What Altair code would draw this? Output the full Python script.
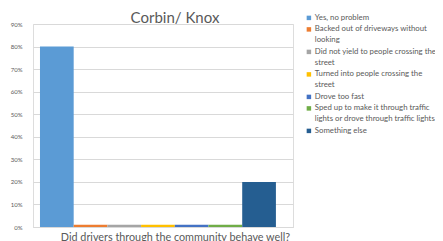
import altair as alt
import pandas as pd

# data
answers = [
    ["Yes, no problem"],
    ["Backed out of driveways without", "looking"],
    ["Did not yield to people crossing the", "street"],
    ["Turned into people crossing the", "street"],
    ["Drove too fast"],
    ["Sped up to make it through traffic", "lights or drove through traffic lights"],
    ["Something else"],
]
shares = [0.80, 0.01, 0.01, 0.01, 0.01, 0.01, 0.20]
colors = ["#5B9BD5", "#ED7D31", "#A5A5A5", "#FFC000", "#4472C4", "#70AD47", "#255E91"]
y_ticks = [0, 0.1, 0.2, 0.3, 0.4, 0.5, 0.6, 0.7, 0.8, 0.9]

names = ["\n".join(a) for a in answers]
df = pd.DataFrame({"answer": names, "share": shares})

FONT = "Lato"
GREY = "#595959"

chart = alt.Chart(df).mark_bar().encode(
    x=alt.X("answer:N", sort=names,
            scale=alt.Scale(paddingInner=0, paddingOuter=0.357, align=0.29),
            axis=alt.Axis(title="Did drivers through the community behave well?",
                          labels=False, ticks=False, domain=True, domainColor="#D9D9D9",
                          titleFont=FONT, titleFontSize=10.8, titleColor=GREY,
                          titleFontWeight="normal", titlePadding=4, titleX=142)),
    y=alt.Y("share:Q", scale=alt.Scale(domain=[0, 0.9], nice=False),
            axis=alt.Axis(title=None, values=y_ticks, format=".0%", labelFontSize=6,
                          labelColor=GREY, labelFont=FONT, domain=False, ticks=False,
                          gridColor="#D9D9D9", labelPadding=11)),
    color=alt.Color("answer:N", sort=names,
                    scale=alt.Scale(domain=names, range=colors),
                    legend=alt.Legend(title=None, orient="none", legendX=272, legendY=-10,
                                      padding=0,
                                      symbolType="square", symbolSize=20, symbolStrokeWidth=0,
                                      labelFont=FONT, labelFontSize=7.8, labelColor=GREY,
                                      labelLimit=200, rowPadding=2.5, labelOffset=2,
                                      labelExpr="split(datum.label, '\\n')")),
).properties(
    width=260, height=203,
    title=alt.TitleParams("Corbin/ Knox", font=FONT, fontSize=15, color=GREY,
                          fontWeight="normal", anchor="middle", frame="group",
                          offset=4, dy=16, dx=12),
    padding={"left": 25, "top": 16, "right": 142, "bottom": 14},
    autosize=alt.AutoSizeParams(type="none"),
).configure_view(stroke=None).configure(style={"guide-label": {"lineHeight": 11}})

chart.save("out.html", embed_options={"renderer": "svg", "actions": False})
